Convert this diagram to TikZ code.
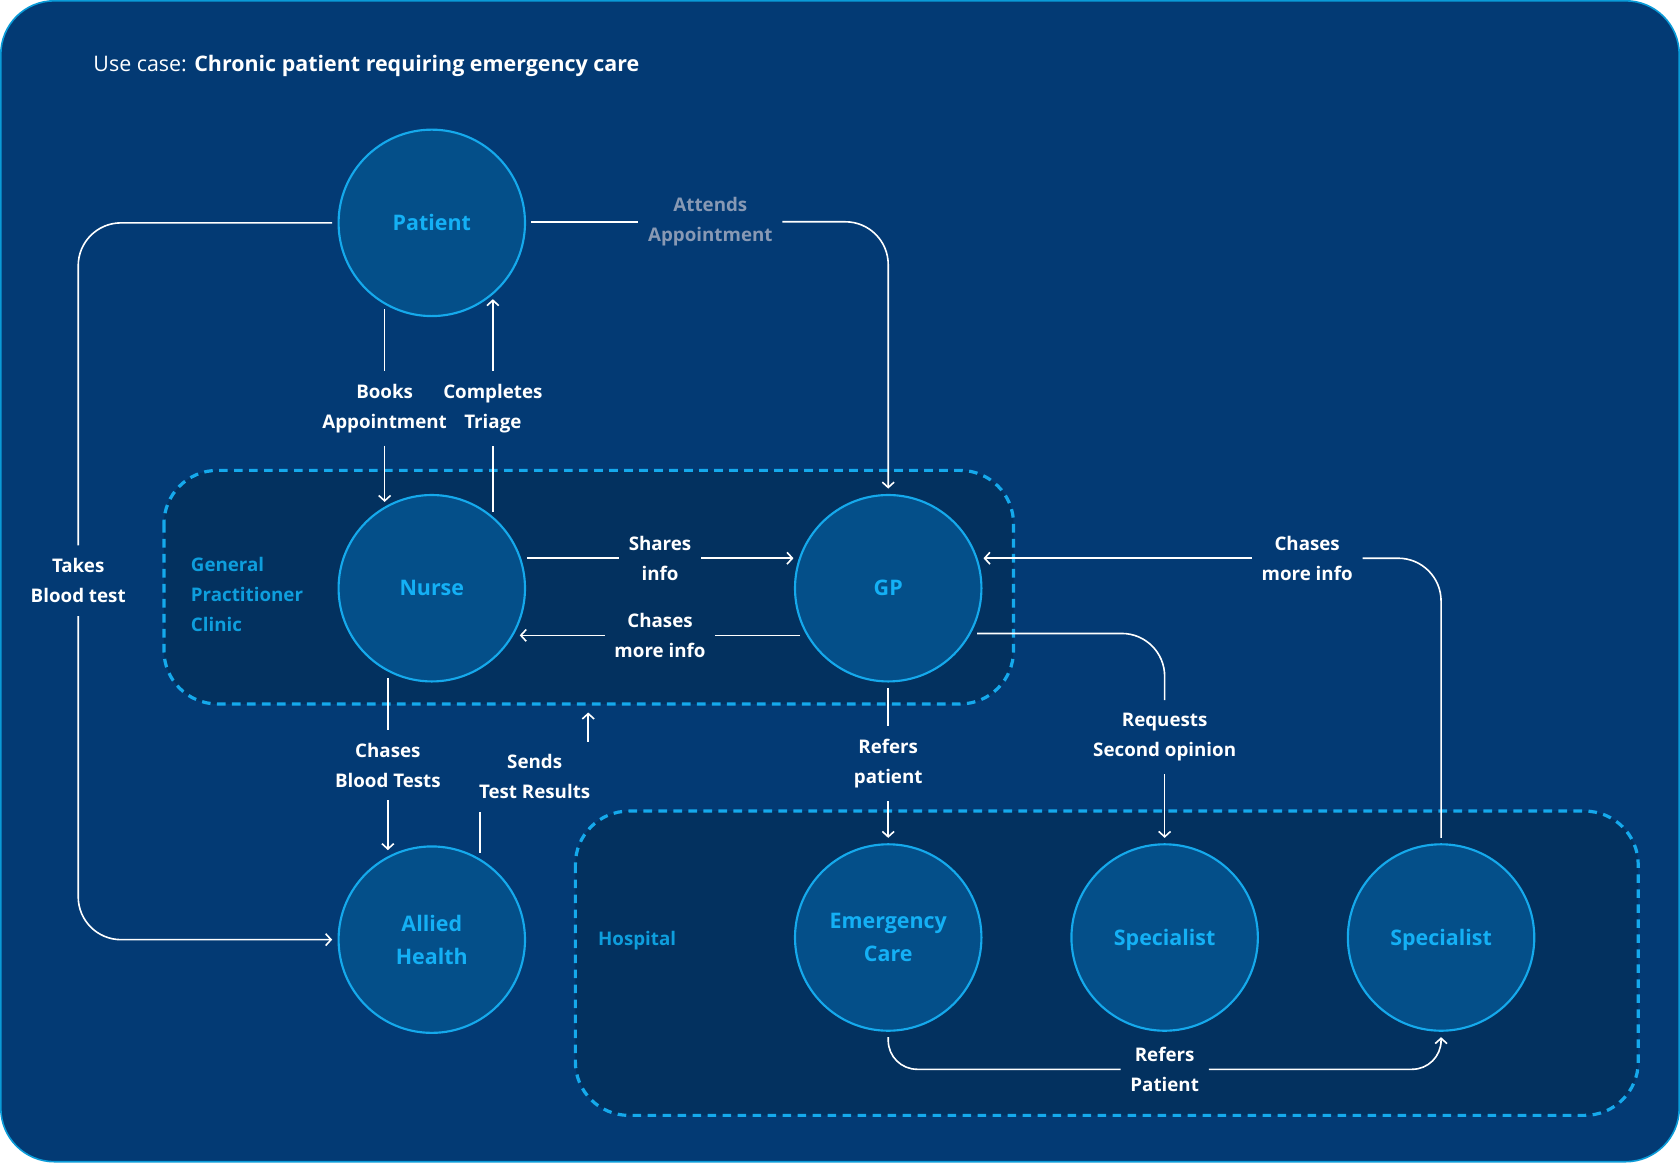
\documentclass[tikz,border=0pt]{standalone}
\usepackage{fontspec}
\setmainfont{Open Sans}
\usetikzlibrary{shapes, arrows.meta, calc}
\definecolor{bgblue}{HTML}{033A74}
\definecolor{edgeblue}{HTML}{0A9BD8}
\definecolor{areafill}{HTML}{03315F}
\definecolor{actorfill}{HTML}{044F89}
\definecolor{skyline}{HTML}{15A9EC}
\definecolor{skytext}{HTML}{14B0F5}
\definecolor{areatext}{HTML}{0E9EDD}
\definecolor{greytext}{HTML}{8899B4}

\begin{document}
\begin{tikzpicture}[x=1pt, y=-1pt, >={Straight Barb[length=5pt, width=11pt]},
  actor/.style={circle, draw=skyline, line width=2pt, fill=actorfill, minimum size=174pt,
    inner sep=0pt, outer sep=6pt, text=skytext, align=center,
    font=\fontsize{20}{31}\selectfont\bfseries},
  oneline/.style={text height=14.3pt, text depth=0pt},
  lbl/.style={text=white, align=center, inner xsep=9pt, inner ysep=12pt,
    font=\fontsize{17.5}{28}\selectfont\bfseries},
  link/.style={draw=white, line width=1.5pt},
  area/.style={draw=skyline, fill=areafill, line width=3pt, dash pattern=on 8pt off 6pt,
    rounded corners=50pt},
  areaname/.style={anchor=west, inner sep=0pt, text=areatext, align=left,
    font=\fontsize{17.5}{28}\selectfont\bfseries}]
\useasboundingbox (0,0) rectangle (1568,1085);
\fill[bgblue, draw=edgeblue, line width=1.5pt, rounded corners=50pt] (0.75,0.75) rectangle (1567.25,1084.25);
\draw[area] (153,439) rectangle (946,657);
\draw[area] (537,757) rectangle (1529,1041);

\node[anchor=west, inner sep=0pt, text=white, oneline, font=\fontsize{20}{24}\selectfont]
  at (87,60) (title) {Use case: \textbf{Chronic patient requiring emergency care}};
\node[areaname] at (178,555) (gpc) {General\\Practitioner\\Clinic};
\node[areaname] at (558,878) (hosp) {Hospital};

\node[actor, oneline] at (403,208) (Pat) {Patient};
\node[actor, oneline] at (403,549) (Nur) {Nurse};
\node[actor, oneline] at (829,549) (GP) {GP};
\node[actor] at (403,877) (AH) {Allied\\Health};
\node[actor] at (829,875) (EC) {Emergency\\Care};
\node[actor, oneline] at (1087,875) (Sp1) {Specialist};
\node[actor, oneline] at (1345,875) (Sp2) {Specialist};

\node[lbl] at (73,542) (lTakes) {Takes\\Blood test};
\node[lbl, text=greytext] at (663,207) (lAttends) {Attends\\Appointment};
\node[lbl] at (359,381) (lBooks) {Books\\Appointment};
\node[lbl] at (460,381) (lTriage) {Completes\\Triage};
\node[lbl] at (616,521) (lShares) {Shares\\info};
\node[lbl] at (616,593) (lChasesN) {Chases\\more info};
\node[lbl] at (362,714) (lChasesBT) {Chases\\Blood Tests};
\node[lbl] at (499,725) (lSends) {Sends\\Test Results};
\node[lbl] at (829,713) (lRefers) {Refers\\patient};
\node[lbl] at (1087,688) (lRequests) {Requests\\Second opinion};
\node[lbl] at (1220,521) (lChasesS) {Chases\\more info};
\node[lbl] at (1087,998) (lRefersP) {Refers\\Patient};
\coordinate (sendsUp) at (549,665);

\draw[link, rounded corners=40pt] (Pat.west) -| (lTakes.north);
\draw[link, ->, rounded corners=40pt] (lTakes.south) |- (AH.west);
\draw[link] (Pat.east |- lAttends.west) -- (lAttends.west);
\draw[link, ->, rounded corners=40pt] (lAttends.east) -| (GP.north);
\draw[link] (lBooks |- Pat.-120) -- (lBooks.north);
\draw[link, ->] (lBooks.south) -- (lBooks |- Nur.120);
\draw[link] (lTriage |- Nur.50) -- (lTriage.south);
\draw[link, ->] (lTriage.north) -- (lTriage |- Pat.-50);
\draw[link] (Nur.17.5 |- lShares.west) -- (lShares.west);
\draw[link, ->] (lShares.east) -- (lShares.east -| GP.162.5);
\draw[link] (GP.208 |- lChasesN.east) -- (lChasesN.east);
\draw[link, ->] (lChasesN.west) -- (lChasesN.west -| Nur.-28);
\draw[link] (lChasesBT |- Nur.-116) -- (lChasesBT.north);
\draw[link, ->] (lChasesBT.south) -- (lChasesBT |- AH.116);
\draw[link] (AH.61) -- (AH.61 |- lSends.south);
\draw[link, ->] (lSends.north -| sendsUp) -- (sendsUp);
\draw[link] (GP.south) -- (lRefers.north);
\draw[link, ->] (lRefers.south) -- (EC.north);
\draw[link, rounded corners=40pt] (GP.-27) -| (lRequests.north);
\draw[link, ->] (lRequests.south) -- (Sp1.north);
\draw[link, rounded corners=40pt] (Sp2.north) |- (lChasesS.east);
\draw[link, ->] (lChasesS.west) -- (lChasesS.west -| GP.17.5);
\draw[link, rounded corners=27pt] (EC.south) |- (lRefersP.west);
\draw[link, ->, rounded corners=27pt] (lRefersP.east) -| (Sp2.south);
\end{tikzpicture}
\end{document}
